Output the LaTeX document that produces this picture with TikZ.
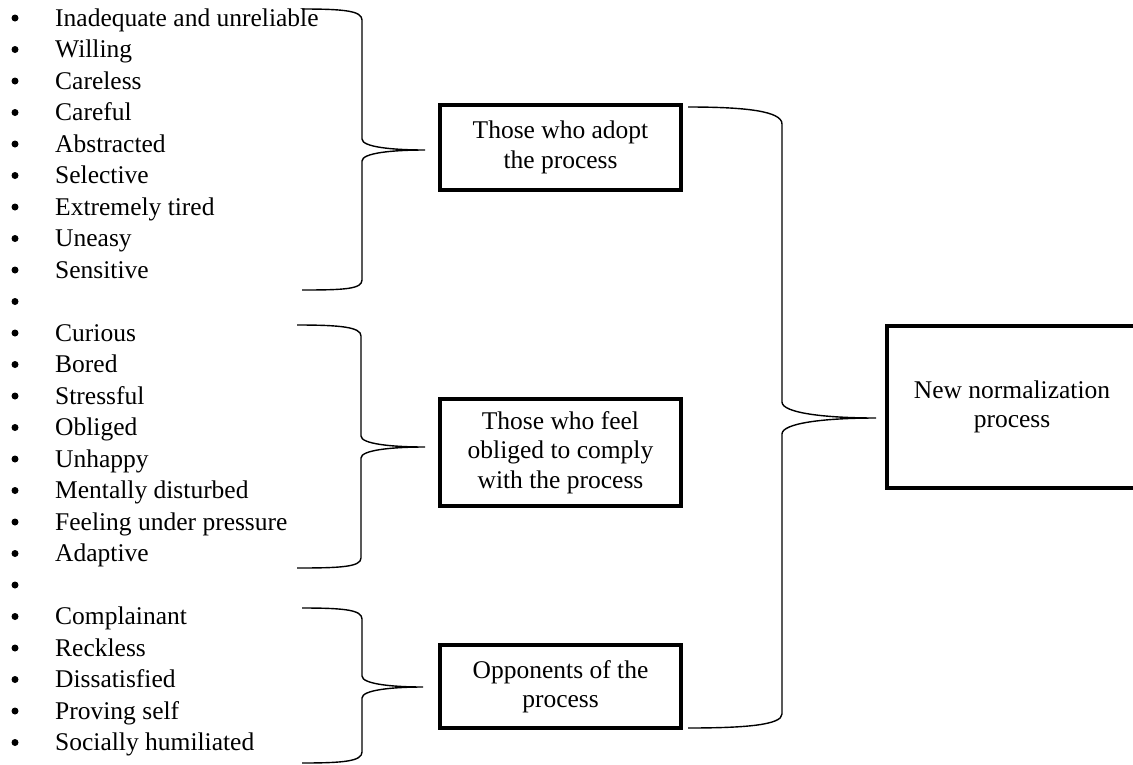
\documentclass[tikz,border=0pt]{standalone}
\usepackage{fontspec}
\setmainfont{Liberation Serif}
\begin{document}
\begin{tikzpicture}[x=1pt,y=-1pt,
  every node/.style={font=\fontsize{25.5}{29.5}\selectfont},
  item/.style={anchor=base west, inner sep=0pt},
  dot/.style={circle, fill=black, inner sep=0pt, minimum size=7pt},
  groupbox/.style={draw=black, line width=4pt, inner sep=0pt, align=center, minimum width=241pt},
  bracepath/.style={draw=black, line width=1.4pt}]
\clip (0,0) rectangle (1133,764);
\fill[white] (0,0) rectangle (1133,764);
% bullet list
\foreach \t [count=\i from 0] in {{Inadequate and unreliable},{Willing},{Careless},{Careful},{Abstracted},{Selective},{Extremely tired},{Uneasy},{Sensitive},{},{Curious},{Bored},{Stressful},{Obliged},{Unhappy},{Mentally disturbed},{Feeling under pressure},{Adaptive},{},{Complainant},{Reckless},{Dissatisfied},{Proving self},{Socially humiliated}}{
  \pgfmathsetmacro\yb{26+31.5*\i}
  \node[dot] (b\i) at (15,\yb-8) {};
  \node[item] (t\i) at (55,\yb) {\t};
}
% boxes
\node[groupbox, minimum height=85pt] (adopt) at (560.5,147.5) {Those who adopt\\the process};
\node[groupbox, minimum height=107pt] (oblige) at (560.5,452.5) {Those who feel\\obliged to comply\\with the process};
\node[groupbox, minimum height=83pt] (oppo) at (560.5,686.5) {Opponents of the\\process};
\node[groupbox, minimum width=250pt, minimum height=162pt] (norm) at (1012,407) {New normalization\\process};
% brace 1
\coordinate (s1) at (302,9); \coordinate (p1) at (425,150); \coordinate (e1) at (302,290);
\draw[bracepath] (s1) .. controls (345,9) and (362,11) .. (362,20) -- (362,139)
  .. controls (362,147) and (392,150) .. (p1)
  .. controls (392,150) and (362,153) .. (362,161) -- (362,280)
  .. controls (362,289) and (345,290) .. (e1);
% brace 2
\coordinate (s2) at (297,325); \coordinate (p2) at (425,447); \coordinate (e2) at (297,568);
\draw[bracepath] (s2) .. controls (340,325) and (361,327) .. (361,336) -- (361,436)
  .. controls (361,444) and (392,447) .. (p2)
  .. controls (392,447) and (361,450) .. (361,458) -- (361,558)
  .. controls (361,567) and (340,568) .. (e2);
% brace 3
\coordinate (s3) at (302,608); \coordinate (p3) at (423,687); \coordinate (e3) at (302,763);
\draw[bracepath] (s3) .. controls (345,608) and (362,610) .. (362,619) -- (362,676)
  .. controls (362,684) and (392,687) .. (p3)
  .. controls (392,687) and (362,690) .. (362,698) -- (362,752)
  .. controls (362,761) and (345,763) .. (e3);
% big brace
\coordinate (s4) at (688,107); \coordinate (p4) at (876,418); \coordinate (e4) at (688,728);
\draw[bracepath] (s4) .. controls (745,107) and (782,111) .. (782,124) -- (782,402)
  .. controls (782,413) and (825,418) .. (p4)
  .. controls (825,418) and (782,423) .. (782,434) -- (782,714)
  .. controls (782,725) and (745,728) .. (e4);
\end{tikzpicture}
\end{document}
